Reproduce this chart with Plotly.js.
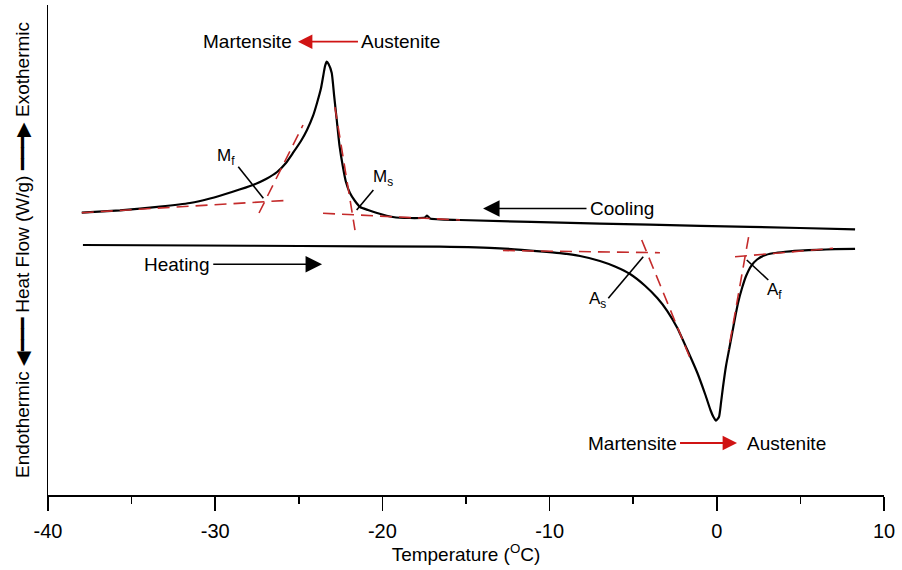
<!DOCTYPE html>
<html>
<head>
<meta charset="utf-8">
<script src="https://cdn.plot.ly/plotly-3.0.1.min.js"></script>
<style>html,body{margin:0;padding:0;background:#fff;}</style>
</head>
<body>
<div id="chart" style="width:902px;height:570px;"></div>
<script>
// ---- DSC data (temperature in °C, heat flow in arbitrary units) ----
const coolingT = [-37.98, -35.69, -33.30, -31.51, -30.31, -29.00, -27.74, -26.96, -26.30, -25.77, -25.35, -24.87, -24.51, -24.15, -23.91, -23.67, -23.55, -23.43, -23.33, -23.22, -23.03, -22.89, -22.73, -22.57, -22.36, -22.18, -21.94, -21.64, -21.34, -20.86, -20.32, -19.37, -18.35, -17.45, -17.33, -17.15, -15.36, -6.99, -1.00, 4.98, 8.27];
const coolingHF = [57.61, 58.10, 58.84, 59.59, 60.51, 61.84, 63.27, 64.49, 65.92, 67.76, 69.80, 72.24, 74.49, 77.35, 80.00, 83.06, 85.31, 87.55, 88.43, 87.96, 86.12, 81.63, 76.53, 71.43, 66.94, 63.88, 61.63, 60.00, 58.78, 58.16, 57.55, 56.73, 56.53, 56.63, 57.04, 56.43, 56.12, 55.39, 54.94, 54.49, 54.22];

const heatingT = [-37.91, -30.91, -24.93, -16.56, -12.97, -10.57, -9.38, -8.18, -6.99, -6.09, -5.19, -4.31, -3.56, -2.96, -2.36, -1.76, -1.16, -0.68, -0.38, -0.20, -0.05, 0.13, 0.25, 0.37, 0.55, 0.73, 0.91, 1.09, 1.27, 1.51, 1.75, 2.05, 2.41, 2.83, 3.36, 4.08, 4.98, 5.99, 7.07, 8.27];
const heatingHF = [51.02, 50.92, 50.82, 50.67, 50.35, 49.73, 49.35, 48.78, 47.76, 46.63, 45.10, 42.76, 40.20, 37.55, 34.08, 29.59, 24.90, 20.41, 17.35, 15.92, 15.16, 15.92, 18.78, 22.04, 26.33, 29.59, 32.86, 36.12, 39.18, 42.24, 44.69, 46.73, 48.06, 48.88, 49.33, 49.65, 49.86, 50.04, 50.16, 50.24];

// ---- tangent construction lines (onset / finish) ----
const mfBaseT = [-37.98, -25.83], mfBaseHF = [57.61, 60.10];
const mfTanT  = [-27.38, -24.75], mfTanHF  = [57.55, 75.51];
const msTanT  = [-22.84, -21.64], msTanHF  = [79.18, 54.08];
const msBaseT = [-23.55, -15.36], msBaseHF = [57.49, 56.12];
const asBaseT = [-12.79, -3.40],  asBaseHF = [49.90, 49.45];
const asTanT  = [-4.49, -1.60],   asTanHF  = [52.04, 27.96];
const afTanT  = [1.90, 0.70],     afTanHF  = [52.65, 29.59];
const afBaseT = [1.09, 6.95],     afBaseHF = [48.63, 50.35];

// ---- pointer lines for the transformation temperatures ----
const mfPointerT = [-28.62, -27.12], mfPointerHF = [67.00, 60.55];
const msPointerT = [-20.54, -21.54], msPointerHF = [62.24, 58.16];
const asPointerT = [-6.49, -4.40],   asPointerHF = [40.14, 48.63];
const afPointerT = [1.79, 3.08],     afPointerHF = [47.96, 43.88];

// ---- axis ticks ----
const tickValues = [-40, -30, -20, -10, 0, 10];
const tickLabels = ['-40', '-30', '-20', '-10', '0', '10'];

const FONT = 'Liberation Sans, Arial, Helvetica, sans-serif';
const RED_DASH = '#c42b2b';
const RED_ARROW = '#d01414';

function dashed(x, y) {
  return {x: x, y: y, mode: 'lines', line: {color: RED_DASH, width: 1.6, dash: '12px,7px'}, hoverinfo: 'skip', showlegend: false};
}
function pointer(x, y) {
  return {x: x, y: y, mode: 'lines', line: {color: '#000', width: 1.6}, hoverinfo: 'skip', showlegend: false};
}

const traces = [
  {x: coolingT, y: coolingHF, mode: 'lines', name: 'Cooling', line: {color: '#000', width: 2.2, shape: 'spline', smoothing: 0.5}, showlegend: false},
  {x: heatingT, y: heatingHF, mode: 'lines', name: 'Heating', line: {color: '#000', width: 2.2, shape: 'spline', smoothing: 0.5}, showlegend: false},
  dashed(mfBaseT, mfBaseHF), dashed(mfTanT, mfTanHF), dashed(msTanT, msTanHF), dashed(msBaseT, msBaseHF),
  dashed(asBaseT, asBaseHF), dashed(asTanT, asTanHF), dashed(afTanT, afTanHF), dashed(afBaseT, afBaseHF),
  pointer(mfPointerT, mfPointerHF), pointer(msPointerT, msPointerHF), pointer(asPointerT, asPointerHF), pointer(afPointerT, afPointerHF)
];

function label(x, y, text, size) {
  return {x: x, y: y, xref: 'x', yref: 'y', text: text, showarrow: false, font: {family: FONT, size: size || 19, color: '#000'}};
}
// text placed at (tx, y); arrow starts at the text and points to headX
function arrowLabel(tx, y, text, headX, color, width, size) {
  return {x: headX, y: y, ax: tx, ay: y, xref: 'x', yref: 'y', axref: 'x', ayref: 'y', text: text,
          showarrow: true, arrowhead: 2, arrowsize: size, arrowwidth: width, arrowcolor: color,
          startstandoff: 2, font: {family: FONT, size: 19, color: '#000'}};
}

const annotations = [
  label(-28.04, 92.51, 'Martensite'),
  arrowLabel(-18.89, 92.51, 'Austenite', -25.05, RED_ARROW, 1.8, 1.6),
  label(-29.35, 68.98, 'M<sub>f</sub>', 17),
  label(-19.96, 64.60, 'M<sub>s</sub>', 17),
  arrowLabel(-5.67, 58.45, 'Cooling', -13.98, '#000', 1.5, 2.2),
  arrowLabel(-32.30, 47.1, 'Heating', -23.61, '#000', 1.5, 2.2),
  label(-7.16, 39.80, 'A<sub>s</sub>', 17),
  label(3.48, 41.63, 'A<sub>f</sub>', 17),
  arrowLabel(-5.07, 10.61, 'Martensite', 1.21, RED_ARROW, 1.8, 1.6),
  label(4.14, 10.61, 'Austenite')
];

const layout = {
  width: 902, height: 570,
  margin: {l: 48, r: 18, t: 5, b: 75},
  paper_bgcolor: '#fff', plot_bgcolor: '#fff',
  font: {family: FONT, color: '#000'},
  showlegend: false,
  xaxis: {
    range: [-40, 10], showgrid: false, zeroline: false,
    showline: true, linecolor: '#000', linewidth: 1.5,
    ticks: 'outside', ticklen: 14, tickwidth: 1.6, tickcolor: '#000',
    tickmode: 'array', tickvals: tickValues, ticktext: tickLabels,
    tickfont: {family: FONT, size: 20, color: '#000'}, ticklabelstandoff: 3,
    minor: {tickmode: 'linear', tick0: -40, dtick: 5, ticks: 'outside', ticklen: 7, tickwidth: 1.6, tickcolor: '#000', showgrid: false},
    title: {text: 'Temperature (<sup>O</sup>C)', font: {family: FONT, size: 19, color: '#000'}, standoff: 6}
  },
  yaxis: {
    range: [0, 100], showgrid: false, zeroline: false,
    showline: true, linecolor: '#000', linewidth: 1.5,
    ticks: '', showticklabels: false,
    title: {text: 'Endothermic ◀━━━ Heat Flow (W/g) ━━━▶ Exothermic', font: {family: FONT, size: 19, color: '#000'}, standoff: 12}
  },
  annotations: annotations
};

Plotly.newPlot('chart', traces, layout, {staticPlot: true, displayModeBar: false});
</script>
</body>
</html>
